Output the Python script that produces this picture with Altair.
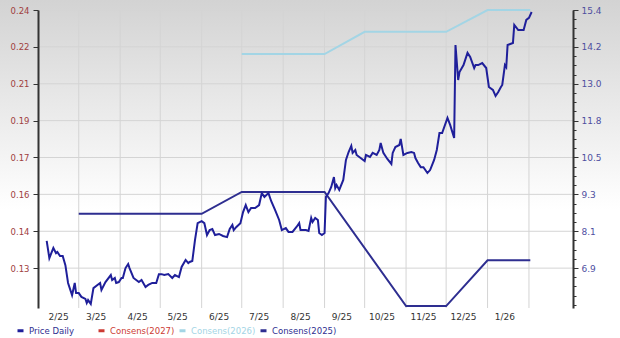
import altair as alt
import pandas as pd

# ---------------- data ----------------
price_dates = [
    "2025-02-05", "2025-02-07", "2025-02-10", "2025-02-12", "2025-02-13", "2025-02-15", "2025-02-17",
    "2025-02-19", "2025-02-21", "2025-02-24", "2025-02-26", "2025-02-27", "2025-03-01", "2025-03-03",
    "2025-03-06", "2025-03-07", "2025-03-08", "2025-03-10", "2025-03-12", "2025-03-15", "2025-03-17",
    "2025-03-18", "2025-03-21", "2025-03-25", "2025-03-26", "2025-03-28", "2025-03-29", "2025-03-31",
    "2025-04-02", "2025-04-03", "2025-04-05", "2025-04-07", "2025-04-08", "2025-04-11", "2025-04-15",
    "2025-04-17", "2025-04-20", "2025-04-22", "2025-04-25", "2025-04-28", "2025-04-30", "2025-05-02",
    "2025-05-04", "2025-05-07", "2025-05-10", "2025-05-12", "2025-05-15", "2025-05-17", "2025-05-20",
    "2025-05-22", "2025-05-23", "2025-05-25", "2025-05-27", "2025-05-29", "2025-06-01", "2025-06-03",
    "2025-06-05", "2025-06-07", "2025-06-09", "2025-06-11", "2025-06-14", "2025-06-17", "2025-06-20",
    "2025-06-22", "2025-06-24", "2025-06-25", "2025-06-27", "2025-06-30", "2025-07-02", "2025-07-04",
    "2025-07-06", "2025-07-08", "2025-07-11", "2025-07-14", "2025-07-16", "2025-07-18", "2025-07-21",
    "2025-07-23", "2025-07-26", "2025-07-29", "2025-07-31", "2025-08-03", "2025-08-05", "2025-08-08",
    "2025-08-11", "2025-08-13", "2025-08-14", "2025-08-18", "2025-08-20", "2025-08-22", "2025-08-23",
    "2025-08-25", "2025-08-27", "2025-08-28", "2025-08-30", "2025-09-01", "2025-09-02", "2025-09-04",
    "2025-09-06", "2025-09-08", "2025-09-09", "2025-09-10", "2025-09-12", "2025-09-15", "2025-09-17",
    "2025-09-19", "2025-09-21", "2025-09-22", "2025-09-24", "2025-09-25", "2025-09-27", "2025-10-01",
    "2025-10-02", "2025-10-05", "2025-10-07", "2025-10-10", "2025-10-12", "2025-10-13", "2025-10-15",
    "2025-10-18", "2025-10-21", "2025-10-22", "2025-10-24", "2025-10-27", "2025-10-28", "2025-10-30",
    "2025-11-02", "2025-11-05", "2025-11-07", "2025-11-08", "2025-11-10", "2025-11-12", "2025-11-14",
    "2025-11-17", "2025-11-19", "2025-11-22", "2025-11-24", "2025-11-26", "2025-11-28", "2025-12-02",
    "2025-12-04", "2025-12-07", "2025-12-08", "2025-12-10", "2025-12-11", "2025-12-14", "2025-12-17",
    "2025-12-19", "2025-12-22", "2025-12-23", "2025-12-25", "2025-12-28", "2025-12-31", "2026-01-02",
    "2026-01-05", "2026-01-07", "2026-01-09", "2026-01-11", "2026-01-12", "2026-01-14", "2026-01-15",
    "2026-01-16", "2026-01-20", "2026-01-21", "2026-01-24", "2026-01-27", "2026-01-28", "2026-01-30",
    "2026-02-01", "2026-02-03",
]
price_values = [
    0.1377, 0.1301, 0.1346, 0.1323, 0.1328, 0.1310, 0.1310,
    0.1270, 0.1191, 0.1137, 0.1191, 0.1146, 0.1146, 0.1129,
    0.1120, 0.1102, 0.1115, 0.1098, 0.1168, 0.1182, 0.1191,
    0.1160, 0.1195, 0.1226, 0.1204, 0.1213, 0.1191, 0.1195,
    0.1213, 0.1213, 0.1257, 0.1275, 0.1257, 0.1213, 0.1195,
    0.1204, 0.1173, 0.1182, 0.1191, 0.1191, 0.1230, 0.1230,
    0.1226, 0.1230, 0.1213, 0.1226, 0.1217, 0.1262, 0.1293,
    0.1279, 0.1284, 0.1288, 0.1381, 0.1456, 0.1465, 0.1456,
    0.1403, 0.1425, 0.1430, 0.1403, 0.1408, 0.1399, 0.1394,
    0.1430, 0.1448, 0.1425, 0.1439, 0.1456, 0.1505, 0.1536,
    0.1505, 0.1523, 0.1523, 0.1536, 0.1589, 0.1572, 0.1589,
    0.1554, 0.1514, 0.1470, 0.1425, 0.1434, 0.1417, 0.1417,
    0.1439, 0.1456, 0.1425, 0.1425, 0.1421, 0.1479, 0.1461,
    0.1479, 0.1470, 0.1412, 0.1403, 0.1412, 0.1572, 0.1589,
    0.1616, 0.1660, 0.1611, 0.1625, 0.1603, 0.1647, 0.1736,
    0.1771, 0.1798, 0.1767, 0.1780, 0.1758, 0.1749, 0.1731,
    0.1758, 0.1749, 0.1767, 0.1758, 0.1780, 0.1811, 0.1767,
    0.1740, 0.1718, 0.1767, 0.1793, 0.1802, 0.1829, 0.1758,
    0.1767, 0.1771, 0.1767, 0.1744, 0.1722, 0.1704, 0.1704,
    0.1678, 0.1691, 0.1736, 0.1780, 0.1855, 0.1855, 0.1922,
    0.1891, 0.1833, 0.2245, 0.2090, 0.2125, 0.2156, 0.2210,
    0.2192, 0.2143, 0.2156, 0.2156, 0.2165, 0.2143, 0.2059,
    0.2046, 0.2019, 0.2037, 0.2059, 0.2068, 0.2156, 0.2147,
    0.2245, 0.2254, 0.2334, 0.2311, 0.2311, 0.2311, 0.2356,
    0.2365, 0.2391,
]

cons2025_dates = ["2025-03-01", "2025-06-01", "2025-07-01", "2025-09-01", "2025-11-01",
                  "2025-12-01", "2026-01-01", "2026-02-02"]
cons2025_values = [8.69, 8.69, 9.41, 9.41, 5.65, 5.65, 7.16, 7.16]
cons2026_dates = ["2025-07-01", "2025-09-01", "2025-10-01", "2025-12-01", "2026-01-01", "2026-02-02"]
cons2026_values = [13.95, 13.95, 14.68, 14.68, 15.4, 15.4]

series_names = ["Price Daily", "Consens(2027)", "Consens(2026)", "Consens(2025)"]
series_colors = ["#1f1f9a", "#cc3a33", "#a3d5e5", "#2e2e90"]

month_starts = ["2025-03-01", "2025-04-01", "2025-05-01", "2025-06-01", "2025-07-01", "2025-08-01",
                "2025-09-01", "2025-10-01", "2025-11-01", "2025-12-01", "2026-01-01", "2026-02-01"]
label_dates = ["2025-02-14", "2025-03-14", "2025-04-14", "2025-05-14", "2025-06-14", "2025-07-14",
               "2025-08-14", "2025-09-14", "2025-10-14", "2025-11-14", "2025-12-14", "2026-01-14"]
label_texts = ["2/25", "3/25", "4/25", "5/25", "6/25", "7/25", "8/25", "9/25", "10/25", "11/25",
               "12/25", "1/26"]

left_min, left_max = 0.1080, 0.24
left_ticks = [0.1256, 0.1420, 0.1583, 0.1747, 0.1910, 0.2073, 0.2237, 0.24]
right_min, right_max = 5.587, 15.4
right_ticks = [6.9, 8.114, 9.329, 10.543, 11.757, 12.971, 14.186, 15.4]

# ---------------- frames ----------------
price_df = pd.DataFrame({"date": price_dates, "price": price_values, "series": "Price Daily"})
cons_df = pd.concat([
    pd.DataFrame({"date": cons2025_dates, "v": cons2025_values, "series": "Consens(2025)"}),
    pd.DataFrame({"date": cons2026_dates, "v": cons2026_values, "series": "Consens(2026)"}),
])
grid_df = pd.DataFrame({"date": month_starts})
hgrid_df = pd.DataFrame({"v": right_ticks})
xlab_df = pd.DataFrame({"date": label_dates, "label": label_texts})

step = (right_ticks[1] - right_ticks[0]) / 4
right_minor = [right_max - i * step for i in range(0, 40) if right_max - i * step > right_min]

W, H = 535, 298
FONT = "DejaVu Sans"

x_scale = alt.Scale(type="utc", domain=[
    alt.DateTime(year=2025, month=1, date=29, hours=12, utc=True),
    alt.DateTime(year=2026, month=3, date=5, hours=23, utc=True),
])
color_scale = alt.Scale(domain=series_names, range=series_colors)
legend = alt.Legend(
    orient="none", legendX=-22, legendY=316, direction="horizontal", columns=4, gridAlign="all",
    symbolType="stroke", symbolSize=36, symbolStrokeWidth=3, labelFont=FONT, labelFontSize=8.5,
    labelOffset=4, columnPadding=-2, padding=0, title=None,
    labelColor=alt.ExprRef(
        "datum.label == 'Consens(2027)' ? '#cc3a33' : (datum.label == 'Consens(2026)' ? '#a3d5e5' : '#2e2e90')"
    ),
)

grad = alt.LinearGradient(
    gradient="linear", x1=0, x2=0, y1=0, y2=1,
    stops=[alt.GradientStop(color="#d3d3d3", offset=0),
           alt.GradientStop(color="#ffffff", offset=0.62),
           alt.GradientStop(color="#ffffff", offset=1)],
)

bg = alt.Chart(pd.DataFrame({"k": [0]})).mark_rect(color=grad, clip=False).encode(
    x=alt.value(-38), x2=alt.value(W + 47), y=alt.value(-10), y2=alt.value(H + 30)
)

vgrid = alt.Chart(grid_df).mark_rule(color="#d4d4d4", strokeWidth=1).encode(
    x=alt.X("date:T", scale=x_scale,
            axis=alt.Axis(labels=False, ticks=False, grid=False, domainColor="#333333",
                          domainWidth=2, zindex=1, title=None))
)

xlabels = alt.Chart(xlab_df).mark_text(
    font=FONT, fontSize=9, color="#333333", baseline="middle", align="center", clip=False
).encode(
    x=alt.X("date:T", scale=x_scale, axis=None),
    y=alt.value(H + 9),
    text="label:N",
)

hgrid = alt.Chart(hgrid_df).mark_rule(color="#d4d4d4", strokeWidth=1).encode(
    y=alt.Y("v:Q", scale=alt.Scale(domain=[right_min, right_max], nice=False, zero=False),
            axis=alt.Axis(orient="right", values=right_minor, labels=False, domain=False, grid=False,
                          tickSize=3, tickColor="#333333", tickWidth=1, zindex=1, title=None))
)

cons = alt.Chart(cons_df).mark_line(strokeWidth=2).encode(
    x=alt.X("date:T", scale=x_scale, axis=None),
    y=alt.Y("v:Q", scale=alt.Scale(domain=[right_min, right_max], nice=False, zero=False),
            axis=alt.Axis(orient="right", values=right_ticks, format=".1f", grid=False,
                          domainColor="#333333", domainWidth=2, tickColor="#333333", tickSize=5,
                          labelColor="#4f4f9f", labelFont=FONT, labelFontSize=9, labelPadding=3,
                          zindex=1, title=None)),
    color=alt.Color("series:N", scale=color_scale, legend=legend),
    detail="series:N",
)

price = alt.Chart(price_df).mark_line(strokeWidth=2).encode(
    x=alt.X("date:T", scale=x_scale, axis=None),
    y=alt.Y("price:Q", scale=alt.Scale(domain=[left_min, left_max], nice=False, zero=False),
            axis=alt.Axis(orient="left", values=left_ticks, format=".2f", grid=False,
                          domainColor="#333333", domainWidth=2, tickColor="#333333", tickSize=5,
                          labelColor="#a0403f", labelFont=FONT, labelFontSize=8.5, labelPadding=4,
                          zindex=1, title=None)),
    color=alt.Color("series:N", scale=color_scale, legend=legend),
)

chart = alt.layer(bg, vgrid, hgrid, cons, price, xlabels).resolve_scale(y="independent").properties(
    width=W, height=H,
    padding={"left": 38, "top": 10, "right": 47, "bottom": 30},
    autosize=alt.AutoSizeParams(type="none"),
    background="#ffffff",
).configure_view(stroke=None)

chart.save("out.html", embed_options={"renderer": "svg", "actions": False})
